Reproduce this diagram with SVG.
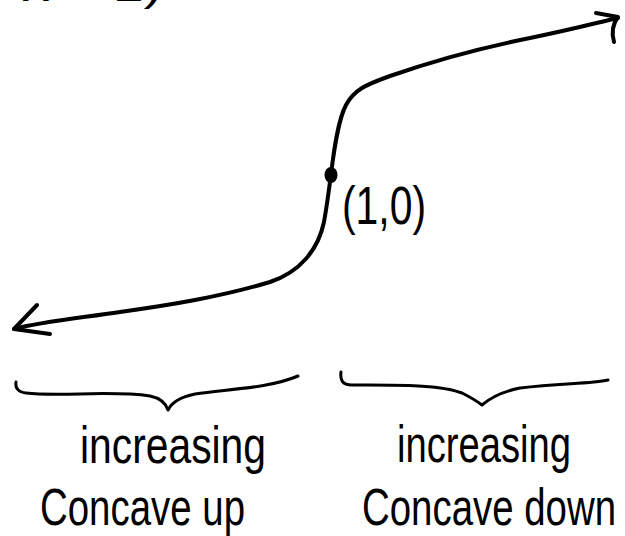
<svg xmlns="http://www.w3.org/2000/svg" width="625" height="536" viewBox="0 0 625 536">
<style>
.ink{fill:none;stroke:#000;stroke-width:4;stroke-linecap:round;stroke-linejoin:round}
.brace{fill:none;stroke:#000;stroke-width:3;stroke-linecap:round;stroke-linejoin:round}
.hand{font-family:"Liberation Sans Narrow","Liberation Sans","DejaVu Sans",sans-serif;fill:#000}
</style>
<rect width="625" height="536" fill="#fff"/>
<g id="title-fragment">
<text class="hand" x="22" y="1" font-size="38" textLength="140" lengthAdjust="spacingAndGlyphs">x − 1)</text>
</g>
<g id="connectors">
<path id="curve" class="ink" d="M14,329 C40,322 80,318 120,312 C170,305 220,297 270,282 C300,272 318,250 324,222 C327,205 329,190 331,174 C334,150 338,120 346,105 C354,90 365,85 390,76 C430,62 480,48 530,38 C570,30 600,22 618,18"/>
<path id="arrow-left" class="ink" d="M37,305 L14,329 L50,334"/>
<path id="arrow-right" class="ink" d="M596,13 L618,17 M618,17 C612,25 612,35 614,42"/>
</g>
<g id="point">
<ellipse cx="331" cy="175" rx="6.5" ry="8" fill="#000"/>
<text class="hand" x="342" y="224" font-size="54" textLength="84" lengthAdjust="spacingAndGlyphs">(1,0)</text>
</g>
<g id="brace-left">
<path class="brace" d="M16,382 C15,388 18,392 26,393 C60,397 110,390 150,396 C160,398 166,404 168,410 C172,402 180,397 195,394 C230,389 270,388 298,376"/>
</g>
<g id="brace-right">
<path class="brace" d="M341,372 C340,380 342,385 352,385 C390,385 440,384 462,393 C472,398 478,402 482,405 C490,398 500,392 520,388 C560,383 590,384 608,380"/>
</g>
<g id="label-left">
<text class="hand" x="80" y="463" font-size="52" textLength="186" lengthAdjust="spacingAndGlyphs">increasing</text>
<text class="hand" x="40" y="525" font-size="52" textLength="205" lengthAdjust="spacingAndGlyphs">Concave up</text>
</g>
<g id="label-right">
<text class="hand" x="397" y="462" font-size="52" textLength="174" lengthAdjust="spacingAndGlyphs">increasing</text>
<text class="hand" x="362" y="525" font-size="52" textLength="254" lengthAdjust="spacingAndGlyphs">Concave down</text>
</g>
</svg>
